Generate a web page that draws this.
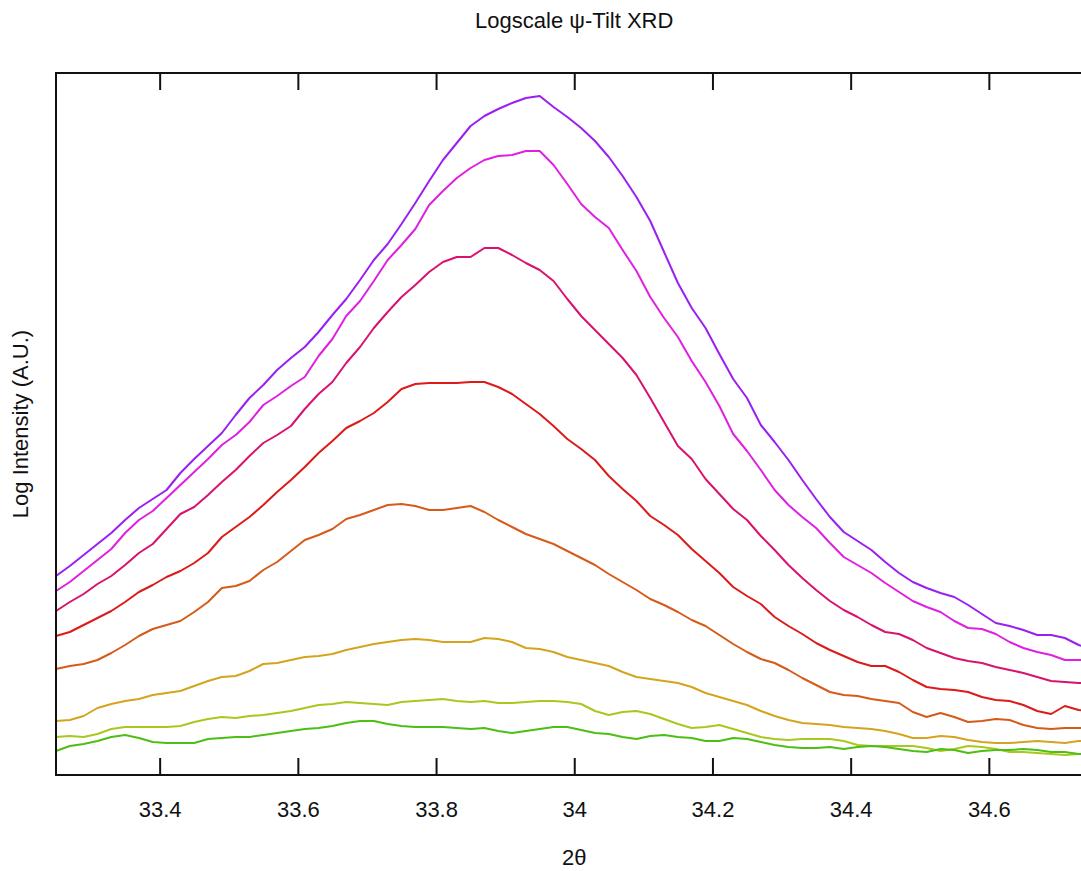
<!DOCTYPE html>
<html>
<head>
<meta charset="utf-8">
<script src="https://cdn.jsdelivr.net/npm/d3@7"></script>
<style>
  html, body { margin: 0; padding: 0; background: #fff; overflow: hidden; }
  svg { display: block; }
</style>
</head>
<body>
<div id="wrapper"></div>
<script>
/* global d3 */

// 2theta scan positions (deg), 0.02 step
const twoTheta = [
  33.25, 33.27, 33.29, 33.31, 33.33, 33.35, 33.37, 33.39, 33.41, 33.43,
  33.45, 33.47, 33.49, 33.51, 33.53, 33.55, 33.57, 33.59, 33.61, 33.63,
  33.65, 33.67, 33.69, 33.71, 33.73, 33.75, 33.77, 33.79, 33.81, 33.83,
  33.85, 33.87, 33.89, 33.91, 33.93, 33.95, 33.97, 33.99, 34.01, 34.03,
  34.05, 34.07, 34.09, 34.11, 34.13, 34.15, 34.17, 34.19, 34.21, 34.23,
  34.25, 34.27, 34.29, 34.31, 34.33, 34.35, 34.37, 34.39, 34.41, 34.43,
  34.45, 34.47, 34.49, 34.51, 34.53, 34.55, 34.57, 34.59, 34.61, 34.63,
  34.65, 34.67, 34.69, 34.71, 34.73, 34.75,
];

// log intensity per tilt, top curve first
const tilt1 = [
  1.99, 2.09, 2.20, 2.31, 2.42, 2.55, 2.67, 2.76, 2.85, 3.02,
  3.16, 3.29, 3.42, 3.60, 3.77, 3.90, 4.05, 4.17, 4.28, 4.43,
  4.60, 4.76, 4.95, 5.15, 5.31, 5.51, 5.72, 5.94, 6.15, 6.32,
  6.49, 6.59, 6.66, 6.72, 6.77, 6.79, 6.68, 6.58, 6.47, 6.34,
  6.18, 5.99, 5.78, 5.54, 5.23, 4.92, 4.67, 4.47, 4.21, 3.96,
  3.77, 3.50, 3.33, 3.15, 2.95, 2.76, 2.58, 2.43, 2.34, 2.25,
  2.13, 2.02, 1.93, 1.87, 1.82, 1.78, 1.70, 1.61, 1.52, 1.49,
  1.45, 1.40, 1.40, 1.37, 1.30, 1.26,
];
const tilt2 = [
  1.84, 1.93, 2.04, 2.15, 2.26, 2.42, 2.55, 2.64, 2.77, 2.90,
  3.03, 3.16, 3.30, 3.40, 3.53, 3.70, 3.79, 3.89, 3.98, 4.19,
  4.36, 4.59, 4.74, 4.94, 5.15, 5.30, 5.46, 5.70, 5.84, 5.97,
  6.07, 6.15, 6.19, 6.20, 6.24, 6.24, 6.10, 5.91, 5.71, 5.58,
  5.47, 5.25, 5.04, 4.78, 4.57, 4.38, 4.14, 3.93, 3.69, 3.41,
  3.24, 3.05, 2.85, 2.70, 2.58, 2.47, 2.32, 2.18, 2.10, 2.02,
  1.92, 1.83, 1.74, 1.68, 1.63, 1.54, 1.47, 1.46, 1.41, 1.33,
  1.27, 1.23, 1.20, 1.15, 1.15, 1.15,
];
const tilt3 = [
  1.64, 1.73, 1.81, 1.91, 1.99, 2.10, 2.22, 2.31, 2.46, 2.61,
  2.68, 2.80, 2.93, 3.05, 3.19, 3.32, 3.40, 3.49, 3.66, 3.81,
  3.93, 4.12, 4.28, 4.47, 4.63, 4.78, 4.90, 5.03, 5.13, 5.18,
  5.18, 5.27, 5.27, 5.20, 5.12, 5.05, 4.94, 4.76, 4.59, 4.45,
  4.31, 4.17, 4.00, 3.77, 3.53, 3.29, 3.16, 2.96, 2.81, 2.66,
  2.55, 2.39, 2.25, 2.10, 1.97, 1.85, 1.74, 1.65, 1.58, 1.50,
  1.43, 1.41, 1.35, 1.27, 1.22, 1.17, 1.14, 1.12, 1.08, 1.05,
  1.02, 0.98, 0.94, 0.93, 0.92, 0.92,
];
const tilt4 = [
  1.39, 1.43, 1.50, 1.57, 1.64, 1.73, 1.83, 1.90, 1.98, 2.04,
  2.12, 2.22, 2.38, 2.48, 2.58, 2.70, 2.83, 2.95, 3.08, 3.22,
  3.34, 3.47, 3.54, 3.62, 3.73, 3.86, 3.91, 3.92, 3.92, 3.92,
  3.93, 3.93, 3.88, 3.81, 3.71, 3.61, 3.49, 3.36, 3.26, 3.15,
  2.99, 2.86, 2.74, 2.59, 2.50, 2.40, 2.26, 2.14, 2.02, 1.88,
  1.79, 1.71, 1.58, 1.49, 1.41, 1.32, 1.25, 1.19, 1.13, 1.09,
  1.09, 1.03, 0.95, 0.88, 0.86, 0.85, 0.83, 0.78, 0.75, 0.74,
  0.70, 0.64, 0.61, 0.69, 0.65, 0.63,
];
const tilt5 = [
  1.06, 1.09, 1.11, 1.15, 1.22, 1.30, 1.39, 1.46, 1.50, 1.54,
  1.63, 1.73, 1.87, 1.89, 1.94, 2.05, 2.13, 2.24, 2.35, 2.40,
  2.46, 2.56, 2.60, 2.65, 2.70, 2.71, 2.69, 2.65, 2.65, 2.67,
  2.69, 2.63, 2.55, 2.48, 2.41, 2.36, 2.31, 2.24, 2.17, 2.10,
  2.01, 1.93, 1.85, 1.76, 1.70, 1.63, 1.55, 1.49, 1.40, 1.31,
  1.23, 1.16, 1.12, 1.05, 0.97, 0.90, 0.83, 0.80, 0.79, 0.76,
  0.74, 0.72, 0.63, 0.58, 0.62, 0.58, 0.53, 0.54, 0.56, 0.55,
  0.50, 0.47, 0.46, 0.47, 0.47, 0.47,
];
const tilt6 = [
  0.54, 0.55, 0.59, 0.67, 0.71, 0.74, 0.76, 0.80, 0.82, 0.84,
  0.89, 0.94, 0.98, 0.99, 1.04, 1.11, 1.12, 1.15, 1.18, 1.19,
  1.21, 1.25, 1.28, 1.31, 1.33, 1.35, 1.36, 1.35, 1.33, 1.33,
  1.33, 1.37, 1.36, 1.33, 1.27, 1.26, 1.23, 1.18, 1.15, 1.12,
  1.09, 1.03, 0.98, 0.96, 0.94, 0.92, 0.88, 0.82, 0.78, 0.74,
  0.70, 0.64, 0.59, 0.55, 0.52, 0.51, 0.50, 0.48, 0.47, 0.46,
  0.44, 0.41, 0.37, 0.37, 0.39, 0.38, 0.35, 0.33, 0.32, 0.32,
  0.33, 0.34, 0.33, 0.32, 0.34, 0.34,
];
const tilt7 = [
  0.38, 0.39, 0.38, 0.41, 0.46, 0.48, 0.48, 0.48, 0.48, 0.49,
  0.53, 0.56, 0.58, 0.57, 0.59, 0.60, 0.62, 0.64, 0.67, 0.70,
  0.71, 0.73, 0.72, 0.71, 0.70, 0.73, 0.74, 0.75, 0.76, 0.74,
  0.73, 0.74, 0.72, 0.72, 0.73, 0.74, 0.74, 0.73, 0.71, 0.64,
  0.60, 0.63, 0.64, 0.61, 0.56, 0.51, 0.47, 0.48, 0.50, 0.46,
  0.42, 0.38, 0.36, 0.35, 0.36, 0.36, 0.36, 0.34, 0.30, 0.29,
  0.29, 0.29, 0.29, 0.27, 0.24, 0.26, 0.29, 0.28, 0.26, 0.23,
  0.23, 0.22, 0.21, 0.20, 0.21, 0.21,
];
const tilt8 = [
  0.24, 0.29, 0.31, 0.34, 0.38, 0.40, 0.37, 0.33, 0.32, 0.32,
  0.32, 0.36, 0.37, 0.38, 0.38, 0.40, 0.42, 0.44, 0.46, 0.47,
  0.49, 0.52, 0.54, 0.54, 0.51, 0.49, 0.48, 0.48, 0.48, 0.47,
  0.46, 0.47, 0.44, 0.42, 0.44, 0.46, 0.48, 0.48, 0.45, 0.42,
  0.41, 0.38, 0.36, 0.39, 0.40, 0.38, 0.37, 0.34, 0.34, 0.37,
  0.36, 0.33, 0.30, 0.28, 0.27, 0.27, 0.28, 0.26, 0.28, 0.29,
  0.28, 0.26, 0.24, 0.23, 0.26, 0.25, 0.22, 0.24, 0.25, 0.25,
  0.26, 0.25, 0.23, 0.23, 0.21, 0.21,
];

const seriesList = [tilt1, tilt2, tilt3, tilt4, tilt5, tilt6, tilt7, tilt8];
const seriesColors = [
  "#9a1ff0", "#e020e0", "#d8126e", "#dc1a1a",
  "#d65a18", "#d4a41e", "#a9c81e", "#4dbf14",
];
const xTicks = [33.4, 33.6, 33.8, 34, 34.2, 34.4, 34.6];

const drawChart = () => {
  let dimensions = {
    width: 1081,
    height: 871,
    margin: {
      top: 73,
      left: 56,
      bottom: 96,
    },
  };
  dimensions.boundedWidth = 1036.5;
  dimensions.boundedHeight =
    dimensions.height - dimensions.margin.top - dimensions.margin.bottom;

  const fontFamily = "'Liberation Sans', Arial, Helvetica, sans-serif";

  const wrapper = d3
    .select("#wrapper")
    .append("svg")
    .attr("width", dimensions.width)
    .attr("height", dimensions.height);

  const bounds = wrapper
    .append("g")
    .attr(
      "transform",
      `translate(${dimensions.margin.left}, ${dimensions.margin.top})`
    );

  const xScale = d3
    .scaleLinear()
    .domain([33.25, 34.75])
    .range([0, dimensions.boundedWidth]);

  const yScale = d3
    .scaleLinear()
    .domain([0, 7.02])
    .range([dimensions.boundedHeight, 0]);

  const lineGenerator = d3
    .line()
    .x((d, i) => xScale(twoTheta[i]))
    .y((d) => yScale(d));

  bounds
    .selectAll(".curve")
    .data(seriesList)
    .join("path")
    .attr("class", "curve")
    .attr("d", lineGenerator)
    .attr("fill", "none")
    .attr("stroke", (d, i) => seriesColors[i])
    .attr("stroke-width", 2)
    .attr("stroke-linejoin", "round");

  // frame
  bounds
    .append("rect")
    .attr("x", 0)
    .attr("y", 0)
    .attr("width", dimensions.boundedWidth)
    .attr("height", dimensions.boundedHeight)
    .attr("fill", "none")
    .attr("stroke", "#111")
    .attr("stroke-width", 2);

  const xAxisGenerator = d3
    .axisBottom()
    .scale(xScale)
    .tickValues(xTicks)
    .tickSize(-17)
    .tickPadding(26)
    .tickFormat((d) => d);

  const xAxis = bounds
    .append("g")
    .call(xAxisGenerator)
    .attr("transform", `translate(0, ${dimensions.boundedHeight})`);
  xAxis.select(".domain").remove();
  xAxis.selectAll("line").attr("stroke", "#111").attr("stroke-width", 2);
  xAxis
    .selectAll("text")
    .attr("fill", "#111")
    .style("font-size", "22px")
    .style("font-family", fontFamily);

  const topAxisGenerator = d3
    .axisTop()
    .scale(xScale)
    .tickValues(xTicks)
    .tickSize(-17)
    .tickFormat("");

  const topAxis = bounds.append("g").call(topAxisGenerator);
  topAxis.select(".domain").remove();
  topAxis.selectAll("line").attr("stroke", "#111").attr("stroke-width", 2);

  wrapper
    .append("text")
    .attr("x", dimensions.margin.left + dimensions.boundedWidth / 2)
    .attr("y", 28)
    .attr("fill", "#111")
    .style("font-size", "22px")
    .style("font-family", fontFamily)
    .style("text-anchor", "middle")
    .text("Logscale ψ-Tilt XRD");

  wrapper
    .append("text")
    .attr("x", dimensions.margin.left + dimensions.boundedWidth / 2)
    .attr("y", 865)
    .attr("fill", "#111")
    .style("font-size", "22px")
    .style("font-family", fontFamily)
    .style("text-anchor", "middle")
    .text("2θ");

  wrapper
    .append("text")
    .attr("x", -(dimensions.margin.top + dimensions.boundedHeight / 2))
    .attr("y", 28)
    .attr("transform", "rotate(-90)")
    .attr("fill", "#111")
    .style("font-size", "22px")
    .style("font-family", fontFamily)
    .style("text-anchor", "middle")
    .text("Log Intensity (A.U.)");
};

drawChart();
</script>
</body>
</html>
